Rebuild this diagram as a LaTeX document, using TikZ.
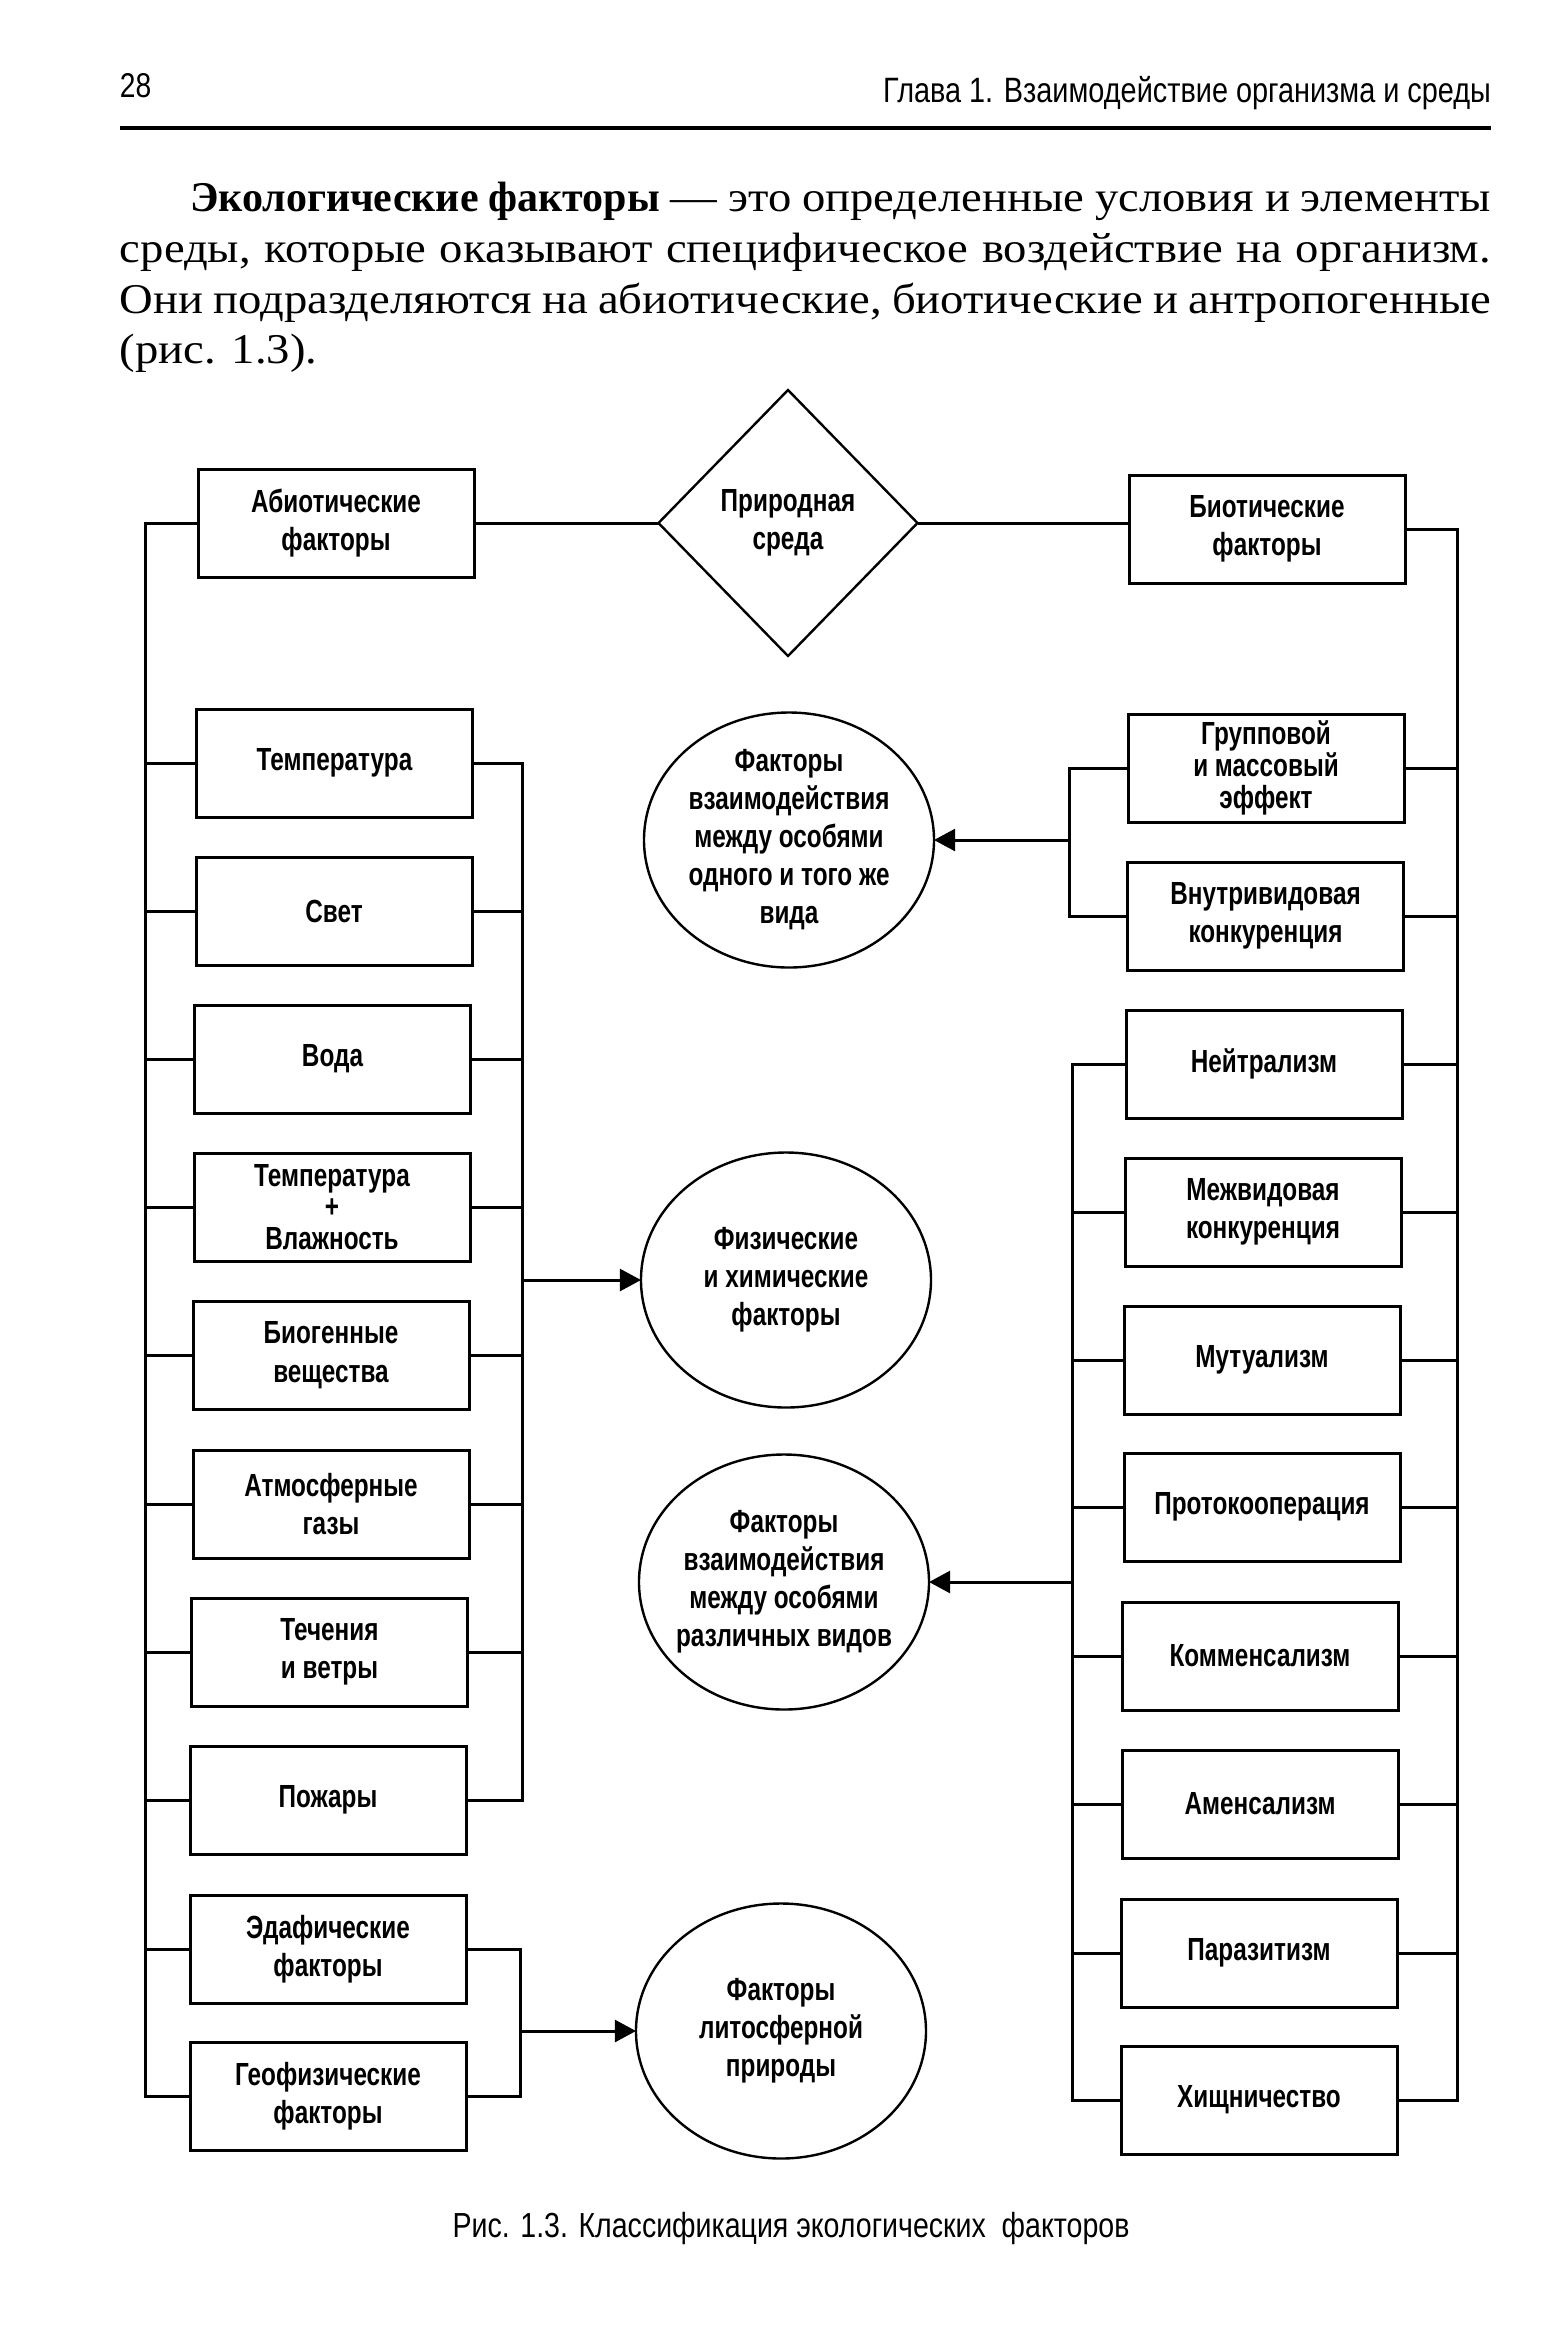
\documentclass[tikz,border=0pt]{standalone}
\usepackage{fontspec}
\setmainfont{Liberation Serif}
\newfontfamily\bodyfont[FakeStretch=1.1]{Liberation Serif}
\newfontfamily\bodybold[FakeStretch=0.99]{Liberation Serif Bold}
\newfontfamily\diagfont[FakeStretch=0.82]{Liberation Sans}
\newfontfamily\labelfont[FakeStretch=0.76]{Liberation Sans Bold}
\usetikzlibrary{shapes.geometric,arrows.meta}
\begin{document}
\begin{tikzpicture}[x=0.25pt,y=-0.25pt,
  every node/.style={inner sep=0pt, outer sep=0pt},
  fbox/.style={draw, line width=0.75pt, minimum width=69pt, minimum height=27pt, align=center, font=\labelfont\fontsize{8}{9.6}\selectfont},
  oval/.style={draw, ellipse, line width=0.6pt, minimum width=72.5pt, minimum height=63.75pt},
  lbl/.style={align=center, font=\labelfont\fontsize{8}{9.5}\selectfont, inner sep=0pt},
  conn/.style={line width=0.75pt},
  arr/.style={line width=0.75pt, -{Triangle[length=5.3pt,width=5.5pt]}},
  body/.style={anchor=base west, font=\bodyfont\fontsize{10.6}{12}\selectfont}
]
\fill[white] (0,0) rectangle (1561,2348);
\useasboundingbox (0,0) rectangle (1561,2348);

% header
\node[anchor=west, font=\diagfont\fontsize{8.6}{10}\selectfont] (pg) at (120,86) {28};
\node[anchor=east, font=\diagfont\fontsize{8.8}{10}\selectfont] (hd) at (1491,93) {Глава 1. Взаимодействие организма и среды};
\coordinate (ruleL) at (120,128);
\coordinate (ruleR) at (1491,128);
\draw[line width=1pt] (ruleL) -- (ruleR);

% body text
\node[body] (t1) at (190,211) {\makebox[325.25pt][s]{{\bodybold Экологические факторы} — это определенные условия и элементы}};
\node[body] (t2) at (120,262) {\makebox[342.75pt][s]{среды, которые оказывают специфическое воздействие на организм.}};
\node[body] (t3) at (120,313) {\makebox[342.75pt][s]{Они подразделяются на абиотические, биотические и антропогенные}};
\node[body] (t4) at (120,363) {(рис. 1.3).};

% top row
\node[fbox] (abio) at (336,523) {Абиотические\\факторы};
\node[draw, diamond, line width=0.6pt, minimum width=64.75pt, minimum height=66.5pt, align=center, font=\labelfont\fontsize{8}{9.6}\selectfont] (dia) at (788,523) {Природная\\среда};
\node[fbox] (bio) at (1267,529) {Биотические\\факторы};

% left column
\node[fbox] (temp) at (334.5,763) {Температура};
\node[fbox] (svet) at (334,911) {Свет};
\node[fbox] (voda) at (332.5,1059) {Вода};
\node[fbox, font=\labelfont\fontsize{8}{7.8}\selectfont] (tvl) at (332,1207) {Температура\\+\\Влажность};
\node[fbox] (biog) at (331,1355) {Биогенные\\вещества};
\node[fbox] (atm) at (331,1504) {Атмосферные\\газы};
\node[fbox] (tech) at (329.5,1652) {Течения\\и ветры};
\node[fbox] (pozh) at (328,1800) {Пожары};
\node[fbox] (edaf) at (328,1949) {Эдафические\\факторы};
\node[fbox] (geof) at (328,2096) {Геофизические\\факторы};

% right column
\node[fbox, font=\labelfont\fontsize{8}{8}\selectfont] (grp) at (1266,768) {Групповой\\и массовый\\эффект};
\node[fbox] (vnutr) at (1265.5,916) {Внутривидовая\\конкуренция};
\node[fbox] (neit) at (1264,1064) {Нейтрализм};
\node[fbox] (mezh) at (1263,1212) {Межвидовая\\конкуренция};
\node[fbox] (mut) at (1262,1360) {Мутуализм};
\node[fbox] (proto) at (1262,1507) {Протокооперация};
\node[fbox] (komm) at (1260,1656) {Комменсализм};
\node[fbox] (amen) at (1260,1804) {Аменсализм};
\node[fbox] (paraz) at (1259,1953) {Паразитизм};
\node[fbox] (hisch) at (1259,2100) {Хищничество};

% ellipses
\node[oval, label={[lbl]center:{Факторы\\взаимодействия\\между особями\\одного и того же\\вида}}] (e1) at (789,840) {};
\node[oval, label={[lbl]center:{Физические\\и химические\\факторы}}] (e2) at (786,1280) {};
\node[oval, label={[lbl]center:{Факторы\\взаимодействия\\между особями\\различных видов}}] (e3) at (784,1582) {};
\node[oval, label={[lbl]center:{Факторы\\литосферной\\природы}}] (e4) at (781,2031) {};

% bus coordinates
\coordinate (L) at (145,0);
\coordinate (R1) at (522,0);
\coordinate (R2) at (520,0);
\coordinate (B1) at (1069,0);
\coordinate (B2) at (1072,0);
\coordinate (RR) at (1457,0);

% left side
\draw[conn] (abio.west) -- (abio.west -| L) -- (geof.west -| L) -- (geof.west);
\foreach \n in {temp,svet,voda,tvl,biog,atm,tech,pozh,edaf} \draw[conn] (\n.west) -- (\n.west -| L);
\draw[conn] (temp.east) -- (temp.east -| R1) -- (pozh.east -| R1) -- (pozh.east);
\foreach \n in {svet,voda,tvl,biog,atm,tech} \draw[conn] (\n.east) -- (\n.east -| R1);
\draw[arr] (e2.west -| R1) -- (e2.west);
\draw[conn] (edaf.east) -- (edaf.east -| R2) -- (geof.east -| R2) -- (geof.east);
\draw[arr] (e4.west -| R2) -- (e4.west);

% top
\draw[conn] (abio.east) -- (dia.west);
\draw[conn] (dia.east) -- (dia.east -| bio.west);

% right side
\draw[conn] (bio.east) -- (bio.east -| RR) -- (hisch.east -| RR) -- (hisch.east);
\foreach \n in {grp,vnutr,neit,mezh,mut,proto,komm,amen,paraz} \draw[conn] (\n.east) -- (\n.east -| RR);
\draw[conn] (grp.west) -- (grp.west -| B1) -- (vnutr.west -| B1) -- (vnutr.west);
\draw[arr] (e1.east -| B1) -- (e1.east);
\draw[conn] (neit.west) -- (neit.west -| B2) -- (hisch.west -| B2) -- (hisch.west);
\foreach \n in {mezh,mut,proto,komm,amen,paraz} \draw[conn] (\n.west) -- (\n.west -| B2);
\draw[arr] (e3.east -| B2) -- (e3.east);

% caption
\node[font=\diagfont\fontsize{8.7}{10}\selectfont] (cap) at (791,2228) {Рис. 1.3. Классификация экологических\ \ факторов};
\end{tikzpicture}
\end{document}
